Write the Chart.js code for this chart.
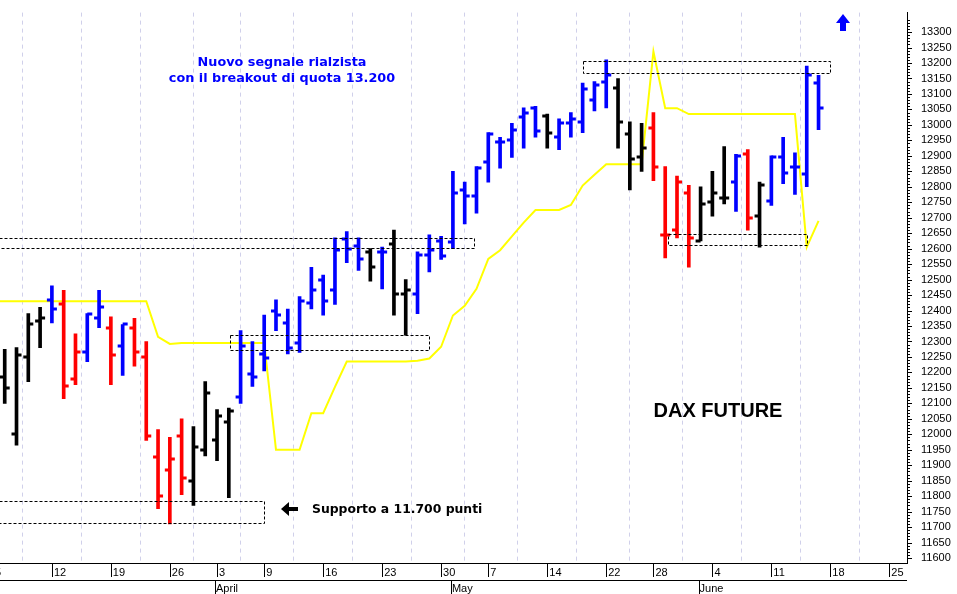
<!DOCTYPE html>
<html>
<head>
<meta charset="utf-8">
<script src="https://cdn.jsdelivr.net/npm/chart.js@4/dist/chart.umd.min.js"></script>
<style>
  html, body { margin: 0; padding: 0; background: #fff; }
  #wrap { width: 957px; height: 594px; position: relative; }
</style>
</head>
<body>
<div id="wrap"><canvas id="dax"></canvas></div>
<script>
// trading day index 0 = 5 March (holidays skipped)
const tickIdx = [0, 5, 10, 15, 19, 23, 28, 33, 38, 42, 47, 52, 56, 61, 66, 71, 76];
const tickLabels = ["5", "12", "19", "26", "3", "9", "16", "23", "30", "7", "14", "22", "28", "4", "11", "18", "25"];
const monthIdx = [19, 39, 60];
const monthLabels = ["April", "May", "June"];

// OHLC bars, idx 1..70
const opens  = [12185,12000,12250,12365,12435,12420,12180,12265,12375,12345,12285,12345,12250,11925,11885,11995,11850,11950,11980,12040,
                12120,12195,12260,12400,12360,12295,12425,12500,12465,12630,12610,12590,12590,12615,12455,12455,12580,12625,12620,12790,
                12770,12880,12945,12950,13025,13055,13030,12960,13005,13010,13080,13140,13120,12970,12895,12990,12645,12660,12780,12625,
                12750,12765,12815,12905,12705,12755,12895,12865,12840,13135];
const highs  = [12275,12280,12390,12410,12480,12465,12325,12390,12465,12380,12355,12375,12300,12015,11990,12050,12025,12170,12080,12085,
                12335,12300,12385,12435,12405,12445,12540,12515,12635,12655,12635,12600,12605,12660,12500,12590,12645,12640,12850,12815,
                12865,12975,12960,13005,13055,13060,13035,13020,13040,13135,13140,13210,13150,13010,13005,13040,12865,12835,12805,12800,
                12850,12930,12905,12920,12815,12900,12960,12910,13190,13160];
const lows   = [12100,11965,12170,12280,12360,12115,12160,12235,12345,12160,12190,12220,11980,11760,11710,11805,11770,11930,11915,11795,
                12100,12155,12205,12335,12260,12265,12405,12385,12420,12555,12530,12495,12470,12385,12320,12390,12525,12565,12600,12680,
                12715,12815,12860,12895,12925,12960,12925,12920,12960,12975,13045,13055,12925,12790,12850,12820,12570,12635,12540,12625,
                12705,12745,12720,12660,12605,12740,12810,12775,12800,12985];
const closes = [12150,12255,12355,12375,12405,12155,12265,12390,12410,12255,12355,12265,11995,11800,11920,11860,11960,12135,12060,12075,
                12285,12185,12245,12385,12280,12430,12465,12430,12595,12600,12565,12540,12590,12455,12465,12580,12595,12575,12780,12770,
                12860,12970,12945,12985,13040,12980,12975,13005,13020,13115,13130,13160,13010,12890,12925,12865,12645,12815,12635,12745,
                12780,12765,12900,12700,12805,12895,12845,12865,13160,13055];
const barColors = ["k","k","k","k","b","r","r","b","b","r","b","r","r","r","r","r","k","k","k","k",
                   "b","b","b","b","b","b","b","b","b","b","b","k","b","k","k","b","b","b","b","b",
                   "b","b","b","b","b","b","k","b","b","b","b","b","k","k","k","r","r","r","r","k",
                   "k","k","b","r","k","b","b","b","b","b"];

// yellow stop line, idx 0..70
const stopLine = [12430,12430,12430,12430,12430,12430,12430,12430,12430,12430,12430,12430,12430,12430,12315,12292,12295,12295,12295,12295,
                  12295,12295,12295,12295,11950,11950,11950,12068,12068,12153,12235,12235,12235,12235,12235,12235,12238,12245,12283,12384,
                  12415,12470,12567,12595,12640,12684,12725,12725,12725,12741,12804,12839,12873,12873,12873,12873,13237,13054,13054,13035,
                  13035,13035,13035,13035,13035,13035,13035,13035,13035,12605,12690];

const colorMap = { k: "#000000", b: "#0000ff", r: "#ff0000" };
const font = "Liberation Sans, Arial, sans-serif";
const noteFont = "DejaVu Sans, Verdana, sans-serif";

const hl = highs.map((h, i) => ({ x: i + 1, y: [lows[i], h] }));

const boxes = [
  { x0: 50, x1: 70.9, y0: 13170, y1: 13208 },
  { x0: 0.5, x1: 40.8, y0: 12602, y1: 12633 },
  { x0: 20.1, x1: 37, y0: 12273, y1: 12320 },
  { x0: 0.5, x1: 23, y0: 11711, y1: 11783 },
  { x0: 57.2, x1: 69, y0: 12611, y1: 12646 }
];

const overlay = {
  id: "overlay",
  afterDatasetsDraw(chart) {
    const ctx = chart.ctx, xs = chart.scales.x, ys = chart.scales.y, a = chart.chartArea;
    ctx.save();
    // open / close ticks
    ctx.lineWidth = 3;
    opens.forEach((o, i) => {
      const px = xs.getPixelForValue(i + 1);
      ctx.strokeStyle = colorMap[barColors[i]];
      ctx.beginPath();
      ctx.moveTo(px - 5, Math.round(ys.getPixelForValue(o)));
      ctx.lineTo(px, Math.round(ys.getPixelForValue(o)));
      ctx.moveTo(px, Math.round(ys.getPixelForValue(closes[i])));
      ctx.lineTo(px + 5, Math.round(ys.getPixelForValue(closes[i])));
      ctx.stroke();
    });
    // dashed boxes
    ctx.lineWidth = 1;
    ctx.strokeStyle = "#000";
    ctx.setLineDash([3, 2]);
    boxes.forEach(b => {
      const x0 = xs.getPixelForValue(b.x0), x1 = xs.getPixelForValue(b.x1);
      const y0 = ys.getPixelForValue(b.y0), y1 = ys.getPixelForValue(b.y1);
      ctx.strokeRect(Math.round(x0) + 0.5, Math.round(y1) + 0.5, Math.round(x1 - x0), Math.round(y0 - y1));
    });
    ctx.setLineDash([]);
    // texts
    ctx.fillStyle = "#0000ff";
    ctx.font = "bold 12.8px " + noteFont;
    ctx.textAlign = "center";
    ctx.textBaseline = "middle";
    ctx.fillText("Nuovo segnale rialzista", 282, 63);
    ctx.fillText("con il breakout di quota 13.200", 282, 79);
    ctx.fillStyle = "#000";
    ctx.font = "bold 20px " + font;
    ctx.fillText("DAX FUTURE", 718, 411);
    ctx.font = "bold 12.4px " + noteFont;
    ctx.textAlign = "left";
    ctx.fillText("Supporto a 11.700 punti", 312, 510);
    // black left arrow
    ctx.beginPath();
    ctx.moveTo(281, 509); ctx.lineTo(289, 502); ctx.lineTo(289, 507); ctx.lineTo(298, 507);
    ctx.lineTo(298, 511); ctx.lineTo(289, 511); ctx.lineTo(289, 516); ctx.closePath();
    ctx.fill();
    // blue up arrow
    ctx.fillStyle = "#0000ff";
    ctx.beginPath();
    ctx.moveTo(843, 14); ctx.lineTo(850, 23); ctx.lineTo(846, 23); ctx.lineTo(846, 31);
    ctx.lineTo(840, 31); ctx.lineTo(840, 23); ctx.lineTo(836, 23); ctx.closePath();
    ctx.fill();
    // x labels
    ctx.fillStyle = "#000";
    ctx.font = "11px " + font;
    ctx.textAlign = "left";
    tickIdx.forEach((v, i) => {
      const px = xs.getPixelForValue(v);
      ctx.fillText(tickLabels[i], px + 2, a.bottom + 10);
      ctx.fillRect(Math.round(px), a.bottom, 1, 14);
    });
    monthIdx.forEach((v, i) => {
      const px = xs.getPixelForValue(v);
      ctx.fillText(monthLabels[i], px - 1, a.bottom + 26);
      ctx.fillRect(Math.round(px) - 2, a.bottom + 17, 1, 14);
    });
    ctx.fillRect(0, a.bottom + 17, a.right, 1);
    ctx.fillRect(0, a.bottom, a.right, 1);
    // minor y ticks
    for (let v = 11600; v <= 13340; v += 10) {
      const py = Math.round(ys.getPixelForValue(v)) + 0.5;
      ctx.fillRect(a.right, py - 0.5, v % 50 === 0 ? 5 : 3, 1);
    }
    ctx.restore();
  }
};

new Chart(document.getElementById("dax"), {
  data: {
    datasets: [
      {
        type: "bar",
        data: hl,
        backgroundColor: barColors.map(c => colorMap[c]),
        barThickness: 3,
        borderWidth: 0
      },
      {
        type: "line",
        data: stopLine.map((v, i) => ({ x: i, y: v })),
        borderColor: "#ffff00",
        borderWidth: 2,
        pointRadius: 0,
        tension: 0
      }
    ]
  },
  options: {
    responsive: true,
    maintainAspectRatio: false,
    animation: false,
    layout: { padding: 0 },
    plugins: { legend: { display: false }, tooltip: { enabled: false } },
    scales: {
      x: {
        type: "linear",
        min: 0.6,
        max: 77.5,
        offset: false,
        afterBuildTicks: s => { s.ticks = tickIdx.map(v => ({ value: v })); },
        afterFit: s => { s.height = 31; },
        ticks: { display: false },
        grid: { color: "#d0d0ea", lineWidth: 1, tickLength: 0 },
        border: { display: false, dash: [4, 4] }
      },
      y: {
        position: "right",
        min: 11584,
        max: 13363,
        afterBuildTicks: s => {
          const t = [];
          for (let v = 11600; v <= 13300; v += 50) t.push({ value: v });
          s.ticks = t;
        },
        afterFit: s => { s.width = 50; },
        ticks: { color: "#000", font: { family: font, size: 11 }, padding: 6, autoSkip: false, callback: v => String(v) },
        grid: { display: false },
        border: { color: "#000", width: 1 }
      }
    }
  },
  plugins: [overlay]
});
</script>
</body>
</html>
